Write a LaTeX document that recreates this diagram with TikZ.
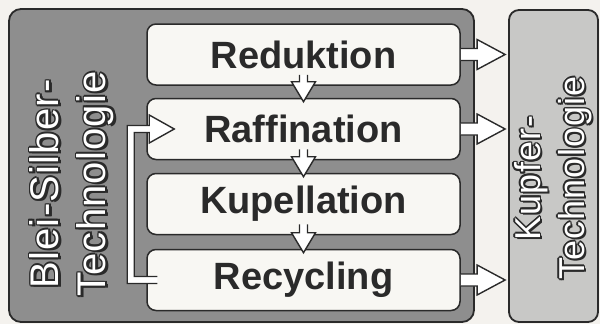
\documentclass[tikz,border=0pt]{standalone}
\usepackage{fontspec}
\setmainfont{Liberation Sans}
\newfontfamily\labfont[LetterSpace=3]{Liberation Sans}
\usetikzlibrary{calc}
\definecolor{ink}{HTML}{2A2A2A}
\definecolor{paper}{HTML}{F4F2EE}
\definecolor{outerfill}{HTML}{8E8E8E}
\definecolor{rightfill}{HTML}{C8C8C6}
\definecolor{boxfill}{HTML}{F8F7F3}
\tikzset{
  bigbox/.style={draw=ink, line width=1.8pt, rounded corners=12pt, inner sep=0pt},
  stepbox/.style={draw=ink, fill=boxfill, line width=1.5pt, rounded corners=9pt,
    minimum width=313pt, minimum height=61pt, inner sep=0pt, text=ink,
    font=\fontsize{38}{40}\selectfont\bfseries},
  harrow/.style={draw=ink, fill=white, line width=1.4pt, line join=miter},
  lab/.style={rotate=90, align=center, inner sep=0pt}
}
\newcommand\hollow[5]{%
  \coordinate (hs) at #1; \coordinate (he) at #2;
  \coordinate (hb) at ($(he)!#4!(hs)$);
  \filldraw[harrow] ($(hs)!#3!90:(he)$) -- ($(hb)!#3!90:(he)$) -- ($(hb)!#5!90:(he)$)
    -- (he) -- ($(hb)!#5!-90:(he)$) -- ($(hb)!#3!-90:(he)$) -- ($(hs)!#3!-90:(he)$);
}
\newcommand\outlinelabel[4]{%
  \foreach \dx/\dy [count=\k] in {2.6/2.0,1.7/0,-1.7/0,0/1.7,0/-1.7,1.2/1.2,-1.2/1.2,1.2/-1.2,-1.2/-1.2}{
    \node[lab, text=ink, font=#3] (#1-\k) at ($#2+(\dx,\dy)$) {#4};
  }
  \node[lab, text=white, font=#3] (#1) at #2 {#4};
}
\begin{document}
\begin{tikzpicture}[x=1pt,y=-1pt]
\useasboundingbox[fill=paper] (0,0) rectangle (600,324);
% containers
\node[bigbox, fill=outerfill, minimum width=465pt, minimum height=313pt] (blei) at (241.5,165.5) {};
\node[bigbox, fill=rightfill, rounded corners=10pt, minimum width=89pt, minimum height=312pt] (kup) at (553.5,166) {};
% steps
\node[stepbox] (red) at (303.5,54.5) {Reduktion};
\node[stepbox] (raf) at (303.5,129) {Raffination};
\node[stepbox] (kpl) at (303.5,204) {Kupellation};
\node[stepbox] (rec) at (303.5,280) {Recycling};
% down arrows
\hollow{($(red.south)+(0,-11)$)}{($(raf.north)+(0,4)$)}{4pt}{20pt}{12pt}
\hollow{($(raf.south)+(0,-11)$)}{($(kpl.north)+(0,4)$)}{4pt}{20pt}{12pt}
\hollow{($(kpl.south)+(0,-11)$)}{($(rec.north)+(0,4)$)}{4pt}{20pt}{12pt}
% right arrows
\hollow{(red.east)}{($(red.east -| kup.west)+(-3,0)$)}{6pt}{28pt}{15pt}
\hollow{(raf.east)}{($(raf.east -| kup.west)+(-3,0)$)}{6pt}{28pt}{15pt}
\hollow{(rec.east)}{($(rec.east -| kup.west)+(-3,0)$)}{6pt}{28pt}{15pt}
% feedback
\coordinate (fbs) at ($(rec.west)+(11,0)$);
\coordinate (fbt) at ($(raf.west)+(28,0)$);
\filldraw[harrow] ($(fbs)+(0,3.5)$) -- ($(rec.west)+(-19,3.5)$) -- ($(raf.west)+(-19,-3.5)$)
  -- ($(fbt)+(-25,-3.5)$) -- ($(fbt)+(-25,-14)$) -- (fbt) -- ($(fbt)+(-25,14)$)
  -- ($(fbt)+(-25,3.5)$) -- ($(raf.west)+(-12,3.5)$) -- ($(rec.west)+(-12,-3.5)$)
  -- ($(fbs)+(0,-3.5)$);
% labels
\outlinelabel{bst}{(72,184)}{\labfont\fontsize{40}{47}\selectfont}{Blei-Silber-\\Technologie}
\outlinelabel{kt}{(553,178)}{\labfont\fontsize{36}{44}\selectfont}{Kupfer-\\Technologie}
\end{tikzpicture}
\end{document}
